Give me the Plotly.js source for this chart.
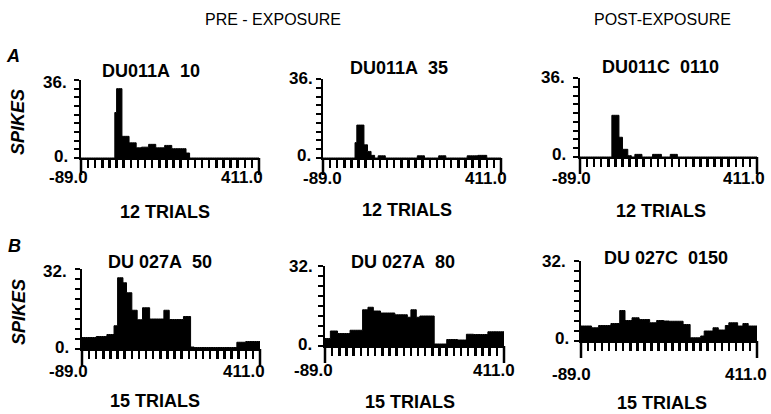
<!DOCTYPE html>
<html>
<head>
<meta charset="utf-8">
<script src="https://cdn.plot.ly/plotly-3.0.1.min.js"></script>
<style>html,body{margin:0;padding:0;background:#fff;}#chart{width:771px;height:414px;}</style>
</head>
<body>
<div id="chart"></div>
<script>
// ---- data: spike counts per 5 ms bin, time -89 .. 411 ms ----
const tStart = -89;
const tEnd = 411;
const binWidth = 5;

const A_pre1 = [
  0,0,0,0,0,0,0,0,0,0,
  0,0,0,0,0,0,0,0,0,21,
  32,32,32,10,10,10,10,7,7,7,
  7,4.7,4.7,4.7,5,5,5,5,6.3,6.3,
  6.3,6.3,4.7,4.7,4.7,4.7,4.7,5.8,5.8,5.8,
  5.8,4.3,4.3,4.3,4.3,4.3,4.3,4.3,4.3,2.3,
  2.3,0,0,0,0,0,0,0,0,0,
  0,0,0,0,0,0,0,0,0,0,
  0,0,0,0,0,0,0,0,0,0,
  0,0,0,0,0,0,0,0,0,0
];
const A_pre2 = [
  0,0,0,0,0,0,0,0,0,0,
  0,0,0,0,0,0,0,0,7,15,
  15,15,15,6,6,3,3,1.2,1.2,0,
  0,1,1,1,1,0,0,0,0,0,
  0,0,0,0,0,0,0,0,0,0,
  0,0,0,1,1,1,1,0,0,0,
  0,0,0,0,0,1,1,1,1,0,
  0,0,0,0,0,0,0,0,0,0,
  0,1,1,1,1,1,1,1.2,1.2,1.2,
  1.2,1.2,0,0,0,0,0,0,0,0
];
const A_post = [
  0,0,0,0,0,0,0,0,0,0,
  0,0,0,0,0,0,0,0,19,19,
  19,19,9,9,3.5,3.5,3.5,0.6,0.6,0,
  0,1.2,1.2,1.2,1.2,0,0,0,0,0,
  0,1.2,1.2,1.2,1.2,1.2,0,0,0,0,
  0,1.2,1.2,1.2,1.2,0,0,0,0,0,
  0,0,0,0,0,0,0,0,0,0,
  0,0,0,0,0,0,0,0,0,0,
  0,0,0,0,0,0,0,0,0,0,
  0,0,0,0,0,0,0,0,0,0
];
const B_pre1 = [
  4.6,4.6,4.6,4.6,4.6,4.6,4.6,4.6,5,5,
  5,5,5,5,5.8,5.8,5.8,5.8,9.3,9.3,
  28.5,28.5,28.5,26.5,26.5,22.5,22.5,22.5,15.5,15.5,
  15.5,11.7,11.7,11.7,16.5,16.5,16.5,16.5,12,12,
  12,12,12,12,12,12,15.5,15.5,15.5,11.8,
  11.8,11.8,11.8,11.8,11.8,11.8,11.8,13,13,13,
  13,0.8,0.8,0.6,0.6,0.6,0.6,0.6,0.6,0.6,
  0.6,0.6,0.6,0.6,0.6,0.6,0.6,0.6,0.6,0.6,
  0.6,0.6,0.6,0.6,0.6,0.6,0.6,2.7,2.7,2.7,
  2.7,2.7,3,3,3,3,3,3,3,3
];
const B_pre2 = [
  3,3,3,6,6,6,6,5,5,5,
  5,5,5,5,6.3,6.3,6.3,6.3,6.3,6.3,
  6.3,14.5,14.5,14.5,15.5,15.5,15.5,14,14,14,
  14,13.2,13.2,13.2,13.2,13.2,13.2,13.2,13.2,12.5,
  12.5,12.5,12.5,12.5,12.5,12.5,11.5,11.5,14.5,14.5,
  14.5,11.5,11.5,12,12,12,12,12,12,12,
  12,0.8,0.8,0.8,0.8,0.8,0.8,0.8,2.6,2.6,
  2.6,2.6,2.6,2.6,2.4,2.4,2.4,2.4,2.4,4.7,
  4.7,4.7,4.7,4.6,4.6,4.6,4.6,4.6,4.6,4.6,
  4.6,5.7,5.7,5.7,5.7,5.7,5.7,5.7,5.7,5.7
];
const B_post = [
  6,6,6,6,6,6,5.3,5.3,5.3,5.3,
  6.2,6.2,6.2,6.2,6.2,6.2,6.2,7,7,7,
  7,7,12.2,12.2,12.2,8.2,8.2,8.2,8.2,9.3,
  9.3,9.3,9.3,8.6,8.6,8.6,8.6,8.6,8.6,7.3,
  7.3,7.3,7.3,8.2,8.2,8.2,8.2,8,8,8,
  7.9,7.9,7.9,7.9,7.9,7.9,7.9,7.9,6.6,6.6,
  6.6,6.6,1.3,1.3,1.3,1.3,1.3,1.3,2,2,
  4,4,4,4,4,5.3,5.3,5.3,4.4,4.4,
  4.4,4.4,6.2,6.2,7.3,7.3,7.3,7.3,7.3,6,
  6,6,7,7,7,6,6,6,6,6
];

const panelNames = ["DU011A\u00a0\u00a010", "DU011A\u00a0\u00a035", "DU011C\u00a0\u00a00110",
                    "DU\u00a0027A\u00a0\u00a050", "DU\u00a0027A\u00a0\u00a080", "DU\u00a0027C\u00a0\u00a00150"];
const trialLabels = ["12 TRIALS", "12 TRIALS", "12 TRIALS", "15 TRIALS", "15 TRIALS", "15 TRIALS"];
const yMaxLabels = ["36.", "36.", "36.", "32.", "32.", "32."];
const yMax = [36, 36, 36, 32, 32, 32];
const xTickLabels = ["-89.0", "411.0"];
const series = [A_pre1, A_pre2, A_post, B_pre1, B_pre2, B_post];

// ---- layout geometry (pixels) ----
const W = 771, H = 414;
// [left, right, zeroY, topY]
const boxes = [
  [81, 259, 158, 80],
  [323, 501, 158, 79],
  [580, 757, 157, 78],
  [82, 260, 349, 269],
  [325, 504, 346, 266],
  [581, 757, 341, 261]
];
const fx = x => x / W;
const fy = y => 1 - y / H;
const LONG_TICK = 17;

const xTicks = [];
for (let t = tStart + 20; t < tEnd; t += 20) xTicks.push(t);
const xBlank = xTicks.map(() => ' ');

const traces = [];
const FONT = 'Liberation Sans, Arial, sans-serif';
const layout = {
  width: W, height: H,
  margin: {l: 0, r: 0, t: 0, b: 0},
  paper_bgcolor: 'white', plot_bgcolor: 'white',
  showlegend: false,
  annotations: [],
  shapes: [],
  font: {family: FONT, color: 'black'}
};

function ann(text, x, y, size, opts) {
  layout.annotations.push(Object.assign({
    text: text, x: fx(x), y: fy(y), xref: 'paper', yref: 'paper',
    showarrow: false, xanchor: 'center', yanchor: 'middle',
    font: {family: FONT, size: size, color: 'black', weight: 700}
  }, opts || {}));
}

series.forEach((vals, i) => {
  const n = i === 0 ? '' : String(i + 1);
  const edges = [];
  for (let k = 0; k <= vals.length; k++) edges.push(tStart + binWidth * k);
  const ys = vals.concat([vals[vals.length - 1]]);
  traces.push({
    type: 'scatter', mode: 'lines', x: edges, y: ys,
    line: {shape: 'hv', color: 'black', width: 1},
    fill: 'tozeroy', fillcolor: 'black',
    xaxis: 'x' + n, yaxis: 'y' + n,
    hoverinfo: 'skip'
  });
  const b = boxes[i];
  const yTicks = [];
  for (let v = 0; v <= yMax[i]; v += 4) yTicks.push(v);
  layout['xaxis' + n] = {
    domain: [fx(b[0]), fx(b[1])], anchor: 'y' + n,
    range: [tStart, tEnd], fixedrange: true,
    showline: true, linewidth: 2, linecolor: 'black',
    showgrid: false, zeroline: false,
    ticks: 'outside', tickmode: 'array', tickvals: xTicks, ticktext: xBlank,
    ticklen: 8, tickwidth: 2.5, tickcolor: 'black', showticklabels: true
  };
  layout['yaxis' + n] = {
    domain: [fy(b[2]), fy(b[3])], anchor: 'x' + n,
    range: [0, yMax[i]], fixedrange: true,
    showline: true, linewidth: 2, linecolor: 'black',
    showgrid: false, zeroline: false,
    ticks: 'outside', tickmode: 'array', tickvals: yTicks, ticktext: yTicks.map(() => ' '),
    ticklen: 5, tickwidth: 2, tickcolor: 'black', showticklabels: true
  };
  // long end ticks of the time axis (axis decoration)
  [b[0], b[1]].forEach(px => {
    layout.shapes.push({
      type: 'line', xref: 'paper', yref: 'paper',
      x0: fx(px), x1: fx(px), y0: fy(b[2]), y1: fy(b[2] + LONG_TICK),
      line: {color: 'black', width: 2.5}
    });
  });
});

const titlePos = [[151, 71], [399, 68], [660, 67], [160, 262], [403, 262], [666, 258]];
const trialPos = [[165, 212], [407, 210], [661, 211], [155, 401], [410, 402], [662, 403]];
const yTopPos = [[55, 82], [301, 79], [553, 78], [55, 271], [301, 266], [554, 261]];
const yZeroPos = [[61, 156], [304, 155], [559, 154], [62, 347], [305, 344], [562, 338]];
const xLPos = [[68, 177], [322, 178], [571, 178], [68, 371], [313, 370], [571, 374]];
const xRPos = [[242, 177], [486, 178], [744, 178], [244, 371], [494, 370], [746, 374]];

for (let i = 0; i < 6; i++) {
  ann(panelNames[i], titlePos[i][0], titlePos[i][1], 18);
  ann(trialLabels[i], trialPos[i][0], trialPos[i][1], 18);
  ann(yMaxLabels[i], yTopPos[i][0], yTopPos[i][1], 17);
  ann('0.', yZeroPos[i][0], yZeroPos[i][1], 17);
  ann(xTickLabels[0], xLPos[i][0], xLPos[i][1], 17);
  ann(xTickLabels[1], xRPos[i][0], xRPos[i][1], 17);
}
ann('PRE - EXPOSURE', 273, 20, 16, {font: {family: FONT, size: 16, color: 'black'}});
ann('POST-EXPOSURE', 662, 20, 16, {font: {family: FONT, size: 16, color: 'black'}});
ann('<i>A</i>', 13, 56, 18);
ann('<i>B</i>', 14, 246, 18);
ann('<i>SPIKES</i>', 18, 122, 18, {textangle: -90});
ann('<i>SPIKES</i>', 19, 312, 18, {textangle: -90});

Plotly.newPlot('chart', traces, layout, {staticPlot: true, displayModeBar: false});
</script>
</body>
</html>
